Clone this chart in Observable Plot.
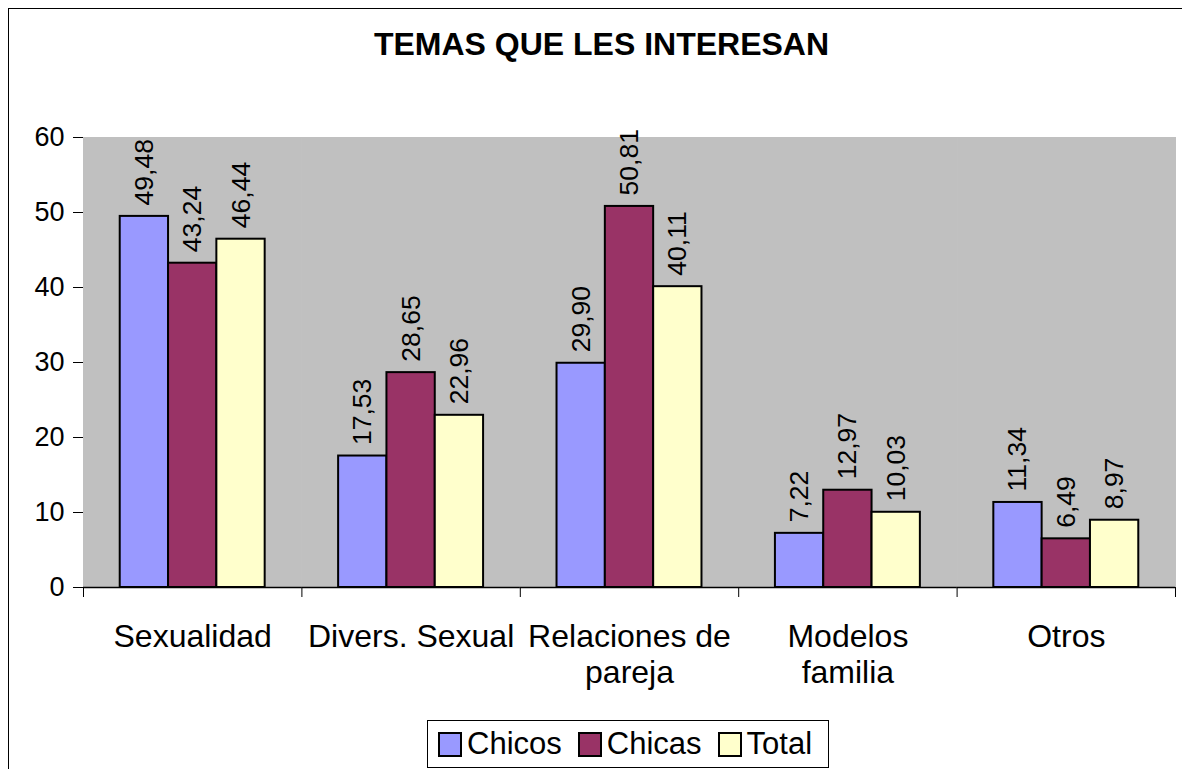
<!DOCTYPE html>
<html>
<head>
<meta charset="utf-8">
<script src="https://cdn.jsdelivr.net/npm/d3@7"></script>
<script src="https://cdn.jsdelivr.net/npm/@observablehq/plot@0.6"></script>
<style>
  html, body { margin: 0; padding: 0; overflow: hidden; background: #fff; width: 1182px; height: 769px; }
  #chart { position: absolute; left: 0; top: 0; }
  #border { position: absolute; left: 8px; top: 8px; width: 1300px; height: 900px; border: 1.5px solid #000; box-sizing: border-box; pointer-events: none; }
  #title { position: absolute; left: 8px; width: 1187px; top: 26px; line-height: 32px; text-align: center;
           font: bold 32px Arial, "Liberation Sans", sans-serif; color: #000; }
  #legend { position: absolute; left: 427px; top: 720px; width: 402px; height: 48px; box-sizing: border-box;
            border: 1px solid #000; background: #fff; display: flex; align-items: center; padding-left: 10px;
            font: 31px Arial, "Liberation Sans", sans-serif; color: #000; }
  #legend .sw { width: 25px; height: 25px; box-sizing: border-box; border: 2px solid #000; margin-right: 5px; }
  #legend .lbl { margin-right: 16px; }
</style>
</head>
<body>
<div id="chart"></div>
<div id="title">TEMAS QUE LES INTERESAN</div>
<div id="legend"></div>
<div id="border"></div>
<script>
const categories = ["Sexualidad", "Divers. Sexual", "Relaciones de pareja", "Modelos familia", "Otros"];
const categoryLabels = ["Sexualidad", "Divers. Sexual", "Relaciones de\npareja", "Modelos\nfamilia", "Otros"];
const series = ["Chicos", "Chicas", "Total"];
const chicos = [49.48, 17.53, 29.90, 7.22, 11.34];
const chicas = [43.24, 28.65, 50.81, 12.97, 6.49];
const total  = [46.44, 22.96, 40.11, 10.03, 8.97];
const colors = ["#9999FF", "#993366", "#FFFFCC"];
const yTicks = [0, 10, 20, 30, 40, 50, 60];

const valuesBySeries = [chicos, chicas, total];
const rows = [];
categories.forEach((c, i) => series.forEach((s, j) => rows.push({cat: c, serie: s, value: valuesBySeries[j][i]})));
const fmt = v => d3.format(".2f")(v).replace(".", ",");

const W = 1182, H = 700, mL = 83, mR = 7, mT = 137, mB = 113;
const xPadOuter = 0.76;
const step = (W - mL - mR) / categories.length / (series.length + 2 * xPadOuter);
const edge = (xPadOuter + 0.5) * step;

const plot = Plot.plot({
  width: W, height: H,
  marginLeft: mL, marginRight: mR, marginTop: mT, marginBottom: mB,
  style: {fontFamily: "Arial, 'Liberation Sans', sans-serif", fontSize: "27px", background: "transparent", color: "#000", overflow: "visible"},
  fx: {domain: categories, paddingInner: 0, paddingOuter: 0, round: false, axis: null, label: null},
  x: {domain: series, paddingInner: 0, paddingOuter: xPadOuter, round: false, axis: null},
  y: {domain: [0, 60], ticks: yTicks, tickSize: 10, tickPadding: 9, label: null, line: true},
  color: {domain: series, range: colors},
  marks: [
    Plot.frame({fill: "#C0C0C0", stroke: "#C0C0C0", strokeWidth: 1}),
    Plot.barY(rows, {fx: "cat", x: "serie", y: "value", fill: "serie", stroke: "#000", strokeWidth: 2}),
    Plot.ruleY([0], {stroke: "#000", strokeWidth: 1.5}),
    Plot.ruleX(categories, {fx: d => d, x: () => series[0], y1: 0, y2: 0, insetTop: 0, insetBottom: -10, dx: -edge, stroke: "#000"}),
    Plot.ruleX(categories.slice(-1), {fx: d => d, x: () => series[2], y1: 0, y2: 0, insetTop: 0, insetBottom: -10, dx: edge, stroke: "#000"}),
    Plot.text(rows, {fx: "cat", x: "serie", y: "value", text: d => fmt(d.value), rotate: -90, textAnchor: "start", dy: -11, fontSize: 26.5, fill: "#000"}),
    Plot.text(categories, {fx: d => d, frameAnchor: "bottom", text: (d, i) => categoryLabels[categories.indexOf(d)], fontSize: 32, lineAnchor: "top", lineHeight: 1.15, dy: 33, fill: "#000"})
  ]
});
document.getElementById("chart").appendChild(plot);

const legend = document.getElementById("legend");
series.forEach((s, j) => {
  const sw = document.createElement("span"); sw.className = "sw"; sw.style.background = colors[j];
  const lb = document.createElement("span"); lb.className = "lbl"; lb.textContent = s;
  legend.appendChild(sw); legend.appendChild(lb);
});
</script>
</body>
</html>
